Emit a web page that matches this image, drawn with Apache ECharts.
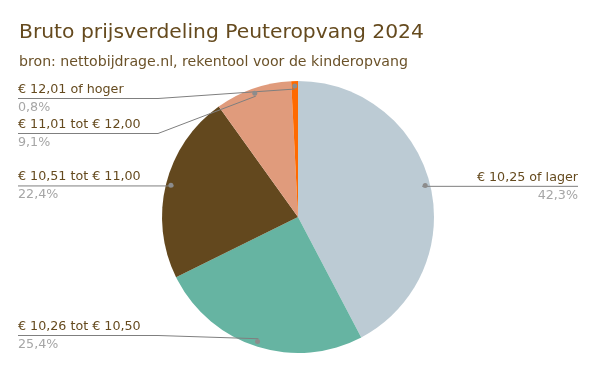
<!DOCTYPE html>
<html>
<head>
<meta charset="utf-8">
<script src="https://cdn.jsdelivr.net/npm/echarts@6/dist/echarts.min.js"></script>
<style>html,body{margin:0;padding:0;background:#fff}#c{width:596px;height:371px}</style>
</head>
<body>
<div id="c"></div>
<script>
const titleText = 'Bruto prijsverdeling Peuteropvang 2024';
const subtitleText = 'bron: nettobijdrage.nl, rekentool voor de kinderopvang';
const categories = ['€ 10,25 of lager', '€ 10,26 tot € 10,50', '€ 10,51 tot € 11,00', '€ 11,01 tot € 12,00', '€ 12,01 of hoger'];
const values = [42.3, 25.4, 22.4, 9.1, 0.8];
const colors = ['#bccbd4', '#66b4a2', '#63481e', '#e09b7c', '#ff6a00'];

const FONT = 'DejaVu Sans';
const chart = echarts.init(document.getElementById('c'));
const total = values.reduce((a, b) => a + b, 0);
// slices whose middle lies within 45 degrees of 12 o'clock get their own label layout group
let acc = 0;
const nearTop = values.map(v => { const mid = (acc + v / 2) / total; acc += v; return mid > 0.875 || mid < 0.125; });

const pieData = categories.map((n, i) => ({ name: n, value: values[i], itemStyle: { color: colors[i] } }));
const ghostData = categories.map((n, i) => ({ name: n, value: values[i] }));
const fmtPct = v => v.toFixed(1).replace('.', ',') + '%';

const common = {
  type: 'pie', left: 0, right: 0, top: 81, bottom: 18,
  center: [298, 136], startAngle: 90, clockwise: true,
  silent: true, animation: false, emphasis: { disabled: true }
};

function labelSeries(group) {
  return Object.assign({}, common, {
    z: 5,
    radius: 128,
    data: categories.map((n, i) => ({
      name: n, value: values[i],
      label: { show: nearTop[i] === group },
      labelLine: { show: nearTop[i] === group }
    })),
    itemStyle: { color: 'rgba(0,0,0,0)' },
    label: {
      position: 'outside', alignTo: 'edge', edgeDistance: 18,
      minMargin: 4,
      formatter: p => '{n|' + p.name + '}\n{p|' + fmtPct(p.value) + '}',
      rich: {
        n: { fontFamily: FONT, fontSize: 12.7, lineHeight: 18, color: '#654a1e' },
        p: { fontFamily: FONT, fontSize: 12.7, lineHeight: 18, color: '#a6a6a6' }
      }
    },
    labelLine: { length: 0, length2: 0, lineStyle: { color: '#7f7f7f', width: 1 } },
    labelLayout: function (params) {
      const pts = params.labelLinePoints;
      if (!pts) return {};
      const r = params.labelRect;
      const isLeft = r.x < 298;
      pts[2][0] = isLeft ? r.x : r.x + r.width;
      pts[1][0] = isLeft ? Math.min(pts[0][0], r.x + 140) : Math.max(pts[0][0], r.x + r.width - 140);
      return { labelLinePoints: pts };
    }
  });
}

chart.setOption({
  animation: false,
  title: [
    { text: titleText, left: 19, top: 23, padding: 0,
      textStyle: { fontFamily: FONT, fontSize: 20.3, fontWeight: 'normal', color: '#654a1e' } },
    { text: subtitleText, left: 19, top: 55, padding: 0,
      textStyle: { fontFamily: FONT, fontSize: 14.15, fontWeight: 'normal', color: '#6b5229' } }
  ],
  series: [
    Object.assign({}, common, {
      z: 2,
      radius: 136, data: pieData, label: { show: false }, labelLine: { show: false }
    }),
    labelSeries(true),
    labelSeries(false),
    Object.assign({}, common, {
      z: 6,
      radius: [120, 136],
      data: ghostData,
      itemStyle: { color: 'rgba(0,0,0,0)' },
      label: {
        show: true, position: 'inside',
        formatter: '{d|}',
        rich: { d: { width: 5, height: 5, borderRadius: 2.5, backgroundColor: '#8c8c8c' } }
      },
      labelLine: { show: false }
    })
  ]
});
</script>
</body>
</html>
